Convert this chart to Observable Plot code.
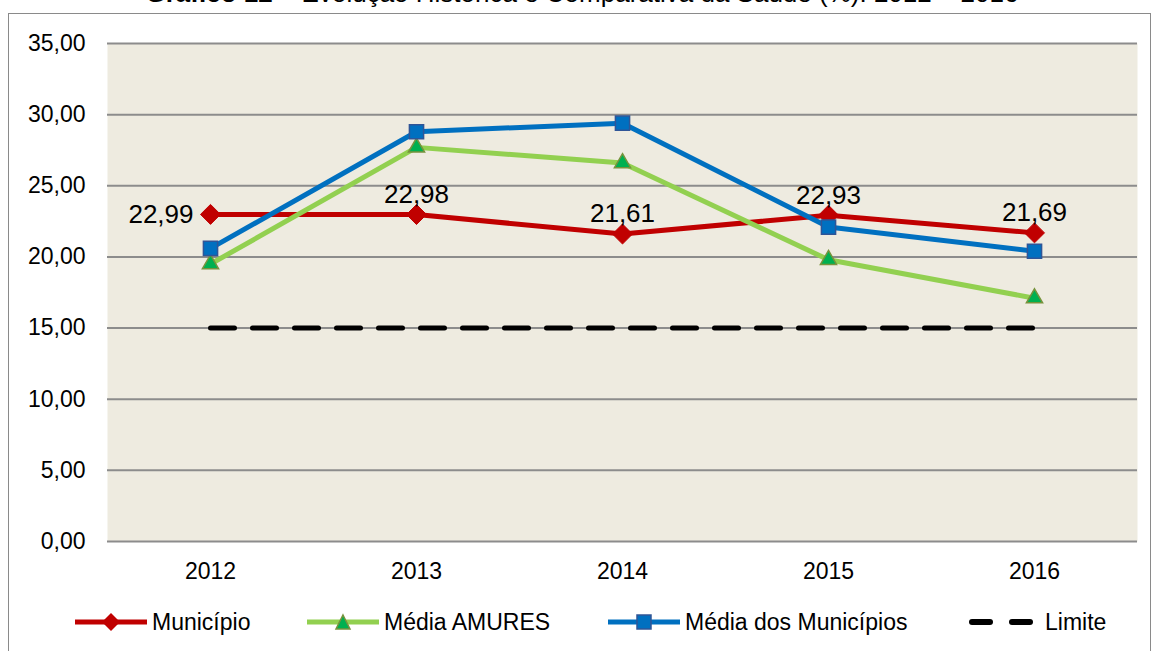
<!DOCTYPE html>
<html>
<head>
<meta charset="utf-8">
<script src="https://cdn.jsdelivr.net/npm/d3@7"></script>
<script src="https://cdn.jsdelivr.net/npm/@observablehq/plot@0.6"></script>
<style>
  html, body { margin: 0; padding: 0; background: #fff; }
  #wrap { position: relative; width: 1152px; height: 651px; overflow: hidden; font-family: "Liberation Sans", Arial, sans-serif; }
  #title { position: absolute; left: 0; width: 1164px; top: -22px; text-align: center; font-size: 26px; line-height: 30px; color: #000; white-space: nowrap; }
  #frame { position: absolute; left: 8px; top: 13px; width: 1143px; height: 700px; border: 1.5px solid #8a8a8a; box-sizing: border-box; }
  #chart { position: absolute; left: 0; top: 0; }
  #legend { position: absolute; left: 0; top: 607px; width: 1152px; height: 30px; font-size: 23px; color: #000; }
  .item { position: absolute; top: 0; height: 30px; display: flex; align-items: center; }
</style>
</head>
<body>
<div id="wrap">
  <div id="frame"></div>
  <div id="title"><b>Gráfico 12</b> – Evolução Histórica e Comparativa da Saúde (%): 2012 – 2016</div>
  <div id="chart"></div>
  <div id="legend"></div>
</div>
<script>
const years = ["2012", "2013", "2014", "2015", "2016"];
const municipio = [22.99, 22.98, 21.61, 22.93, 21.69];
const mediaAmures = [19.5, 27.7, 26.6, 19.8, 17.1];
const mediaMunicipios = [20.6, 28.8, 29.4, 22.1, 20.4];
const limite = [15, 15, 15, 15, 15];
const yTicks = [0, 5, 10, 15, 20, 25, 30, 35];
const seriesNames = ["Município", "Média AMURES", "Média dos Municípios", "Limite"];

const fmt = d => d.toFixed(2).replace(".", ",");
const rows = (vals) => years.map((y, i) => ({year: y, value: vals[i]}));
const mun = rows(municipio), amu = rows(mediaAmures), med = rows(mediaMunicipios), lim = rows(limite);

const RED = "#c00000", GREEN = "#92d050", BLUE = "#0070c0";

const chart = Plot.plot({
  width: 1152,
  height: 590,
  marginLeft: 107,
  marginRight: 15,
  marginTop: 43,
  marginBottom: 49,
  style: { fontFamily: "'Liberation Sans', Arial, sans-serif", fontSize: "23px", color: "#000", background: "transparent" },
  x: { type: "point", domain: years, padding: 0.5, label: null, tickSize: 0, tickPadding: 21 },
  y: { domain: [0, 35], ticks: yTicks, tickFormat: fmt, label: null, tickSize: 0, tickPadding: 22 },
  marks: [
    Plot.frame({ fill: "#eeebe0", stroke: null }),
    Plot.gridY(yTicks, { stroke: "#8c8c8c", strokeOpacity: 1, strokeWidth: 2 }),
    Plot.line(lim, { x: "year", y: "value", stroke: "#000", strokeWidth: 5, strokeDasharray: "24,18" }),
    Plot.line(mun, { x: "year", y: "value", stroke: RED, strokeWidth: 5 }),
    Plot.dot(mun, { x: "year", y: "value", symbol: "diamond2", r: 9, fill: RED, stroke: RED, strokeWidth: 1 }),
    Plot.line(amu, { x: "year", y: "value", stroke: GREEN, strokeWidth: 5 }),
    Plot.dot(amu, { x: "year", y: "value", symbol: "triangle", r: 6, fill: "#00b050", stroke: "#77933c", strokeWidth: 1.5 }),
    Plot.line(med, { x: "year", y: "value", stroke: BLUE, strokeWidth: 5 }),
    Plot.dot(med, { x: "year", y: "value", symbol: "square", r: 8, fill: BLUE, stroke: "#2f5597", strokeWidth: 1.5 }),
    Plot.text(mun.slice(0, 1), { x: "year", y: "value", text: d => fmt(d.value), textAnchor: "end", dx: -17, fontSize: 26, fill: "#000" }),
    Plot.text(mun.slice(1), { x: "year", y: "value", text: d => fmt(d.value), dy: -20, fontSize: 26, fill: "#000" })
  ]
});
document.getElementById("chart").appendChild(chart);

// Legend
const legend = document.getElementById("legend");
const items = [
  { name: seriesNames[0], left: 74, sample: `<line x1="1" y1="15" x2="73" y2="15" stroke="${RED}" stroke-width="5"/><path d="M37,6 L46,15 L37,24 L28,15 Z" fill="${RED}"/>` },
  { name: seriesNames[1], left: 306, sample: `<line x1="1" y1="15" x2="73" y2="15" stroke="${GREEN}" stroke-width="5"/><path d="M37,8 L44,22 L30,22 Z" fill="#00b050" stroke="#77933c" stroke-width="1.5"/>` },
  { name: seriesNames[2], left: 607, sample: `<line x1="1" y1="15" x2="73" y2="15" stroke="${BLUE}" stroke-width="5"/><rect x="30" y="8" width="14" height="14" fill="${BLUE}" stroke="#2f5597" stroke-width="1.5"/>` },
  { name: seriesNames[3], left: 968, sample: `<line x1="4" y1="15" x2="22" y2="15" stroke="#000" stroke-width="6" stroke-linecap="round"/><line x1="44" y1="15" x2="62" y2="15" stroke="#000" stroke-width="6" stroke-linecap="round"/>` }
];
for (const it of items) {
  const div = document.createElement("div");
  div.className = "item";
  div.style.left = it.left + "px";
  const w = it.name === "Limite" ? 66 : 76;
  div.innerHTML = `<svg width="${w}" height="30" style="margin-right:${it.name === "Limite" ? 11 : 2}px">${it.sample}</svg><span>${it.name}</span>`;
  legend.appendChild(div);
}
</script>
</body>
</html>
